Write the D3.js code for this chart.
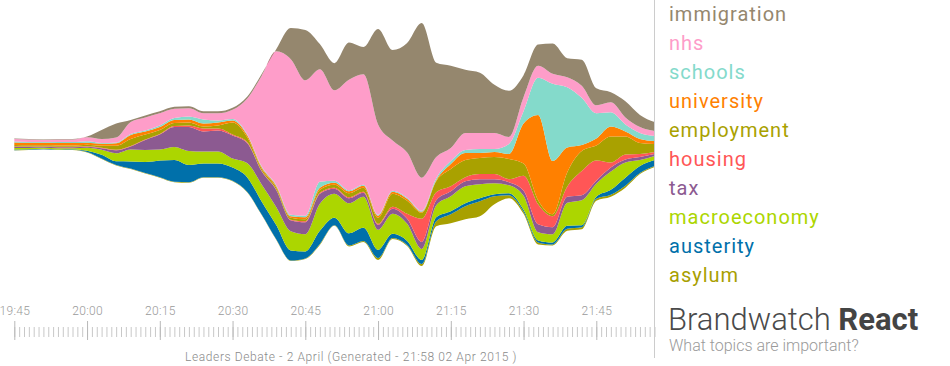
<!DOCTYPE html>
<html><head><meta charset="utf-8">
<script src="https://cdn.jsdelivr.net/npm/d3@7"></script>
<style>
html,body{margin:0;padding:0;background:#fff;}
svg{display:block;font-family:Roboto,"Noto Sans",sans-serif;}
</style></head>
<body>
<svg id="chart" width="950" height="366"></svg>
<script>
// ---------------- data ----------------
const times = ["19:45","19:48","19:51","19:54","19:57","20:00","20:03","20:06","20:09","20:12",
  "20:15","20:18","20:21","20:24","20:27","20:30","20:33","20:36","20:39","20:42",
  "20:45","20:48","20:51","20:54","20:57","21:00","21:03","21:06","21:09","21:12",
  "21:15","21:18","21:21","21:24","21:27","21:30","21:33","21:36","21:39","21:42",
  "21:45","21:48","21:51","21:54","21:57"];

const topics = ["immigration","nhs","schools","university","employment","housing","tax","macroeconomy","austerity","asylum"];
const colors = ["#95876e","#fe9dc9","#84dacb","#ff8000","#a9a100","#ff5656","#8c5a91","#acd600","#0070aa","#a8a000"];

const immigration = [0.5,0.5,0.5,0.5,0.6,0.8,9,14,2,2,2,2,2,2,2,2,2,2,2,31,50,25,27,37,27,95,90,109,154,94,82,63,60,48,46,22,21,30,19,26,17,10,16,12,9];
const nhs         = [2.5,2.5,2,2.5,2.5,4,4,5,12,13,12,9,8,6,7,9,35,90,133,155,135,112,90,110,110,90,50,45,33,21,13,17,16,16,7,14,12,10,10,12,8,10,7,6,5];
const schools     = [1,0.8,0.8,1,1,1.5,0.8,0.8,1,1,1.5,2,3,4,2,1.5,1,1,1,1.5,1.5,6,2,1,1,1,1,1,1,2,3,3,4,3,10,12,37,77,60,47,25,14,7,6,5];
const university  = [2.5,2.5,2.5,2.5,2.5,2,2,2.5,4,3,3,3,3,3,3,2,2,1.5,1.5,1.5,2,2,2,2,2,2,2,2,1,1,5,7,5,5,5,40,85,53,25,6,7,10,5,4,3];
const employment  = [1.5,1.2,1.2,1.2,1.2,1.5,2,4,7,5,4,3,3,2,3,12,5,2,2,2,2,3,3,4,4,6,13,13,6,11,17,17,16,17,20,12,4,2,14,20,15,26,18,11,8];
const housing     = [0.5,0.5,0.5,0.5,0.5,0.5,0.5,0.5,0.5,0.5,0.5,1,1.5,3,2,1,1,0.5,0.5,0.5,1,1,1,1,1,1,2,5,23,8,5,4,5,5,3,15,20,11,10,24,20,5,5,3,2];
const tax         = [1,1,0.8,1,1,1,1.5,3,3,10,15,20,24,20,21,23,20,13,17,11,12,10,5,5,4,5,5,5,7,5,5,5,5,4,3,5,8,7,6,5,3,4,3,3,2];
const macroeconomy= [1.5,1.2,1,1.2,1,3,5,8,12,12,11,13,14,12,12,9,14,17,18,19,17,27,24,30,31,20,20,17,11,12,15,17,14,11,8,14,8,8,23,25,13,18,15,6,4];
const austerity   = [0.7,0.5,0.4,0.4,0.5,1.2,3.7,3.7,7,11,16.5,21.5,17,13.5,13.5,13,14.5,13,14,10,7,13,7.5,12,13,8,4,4,4,4,3,3,3,2,2,2,2,2,3,2,2,5,8,7,6];
const asylum      = [0.3,0.3,0.3,0.2,0.2,0.5,0.5,0.5,0.5,0.5,0.5,0.5,0.5,0.5,0.5,0.5,0.5,0.5,0.5,0.5,0.5,1,0.5,1,1,2,1,1,2,5,9,13,15,8,3,2,2,1,2,2,2,2,2,1,1];

const seriesValues = [immigration,nhs,schools,university,employment,housing,tax,macroeconomy,austerity,asylum];
const majorTickMinutes = 15;
const caption = "Leaders Debate - 2 April (Generated - 21:58 02 Apr 2015 )";

// ---------------- build ----------------
const parse = d3.timeParse("%H:%M");
const rows = times.map((t, i) => {
  const r = {time: parse(t)};
  topics.forEach((k, j) => r[k] = seriesValues[j][i]);
  return r;
});

const svg = d3.select("#chart");

const x = d3.scaleTime()
  .domain(d3.extent(rows, d => d.time))
  .range([14.3, 654.5]);

const stackKeys = topics.slice().reverse(); // bottom layer first
const stack = d3.stack().keys(stackKeys).offset(d3.stackOffsetSilhouette);
const layers = stack(rows);

const y = d3.scaleLinear()
  .domain([d3.min(layers, l => d3.min(l, d => d[0])), d3.max(layers, l => d3.max(l, d => d[1]))])
  .range([266, 23]);

const color = d3.scaleOrdinal().domain(topics).range(colors);

const area = d3.area()
  .x(d => x(d.data.time))
  .y0(d => y(d[0]))
  .y1(d => y(d[1]))
  .curve(d3.curveMonotoneX);

svg.append("g").selectAll("path")
  .data(layers)
  .join("path")
  .attr("d", area)
  .attr("fill", d => color(d.key));

// axes
const majorAxis = d3.axisBottom(x).ticks(d3.timeMinute.every(majorTickMinutes)).tickSize(19).tickFormat("");
const minorAxis = d3.axisBottom(x).ticks(d3.timeMinute.every(1)).tickSize(10).tickFormat("");
const labelAxis = d3.axisTop(x).ticks(d3.timeMinute.every(majorTickMinutes)).tickSize(0).tickPadding(0)
  .tickFormat(d3.timeFormat("%H:%M"));

const gMinor = svg.append("g").attr("transform", "translate(0,327)").call(minorAxis);
const gMajor = svg.append("g").attr("transform", "translate(0,321)").call(majorAxis);
const gLab = svg.append("g").attr("transform", "translate(0,315)").call(labelAxis);
[gMinor, gMajor, gLab].forEach(g => g.select(".domain").remove());
gMinor.selectAll("line").attr("stroke", "#c8c8c8");
gMajor.selectAll("line").attr("stroke", "#b8b8b8");
gLab.selectAll("text").attr("fill", "#9a9a9a").style("font-size", "12px")
  .style("font-family", "Roboto").style("font-weight", 300).style("letter-spacing", "0.3px");

svg.append("text")
  .attr("x", 351).attr("y", 361)
  .attr("text-anchor", "middle")
  .attr("fill", "#8a8a8a")
  .style("font-size", "12px").style("font-weight", 300).style("letter-spacing", "0.6px")
  .text(caption);

// separator
svg.append("line").attr("x1", 654.5).attr("x2", 654.5).attr("y1", 0).attr("y2", 358)
  .attr("stroke", "#cccccc").attr("stroke-width", 1);

// legend
const legendY = d3.scaleLinear().domain([0, topics.length - 1]).range([21, 282.3]);
svg.append("g").selectAll("text")
  .data(topics)
  .join("text")
  .attr("x", 669)
  .attr("y", (d, i) => legendY(i))
  .attr("fill", d => color(d))
  .style("font-size", "20px")
  .style("letter-spacing", "1px")
  .text(d => d);

const title = svg.append("text").attr("x", 668).attr("y", 330).style("font-size", "31px");
title.append("tspan").attr("fill", "#4a4a4a").style("font-weight", 300).text("Brandwatch ");
title.append("tspan").attr("fill", "#444").style("font-weight", 700).text("React");

svg.append("text").attr("x", 669).attr("y", 351)
  .attr("fill", "#9a9a9a").style("font-size", "16px").style("font-weight", 300)
  .text("What topics are important?");
</script>
</body></html>
